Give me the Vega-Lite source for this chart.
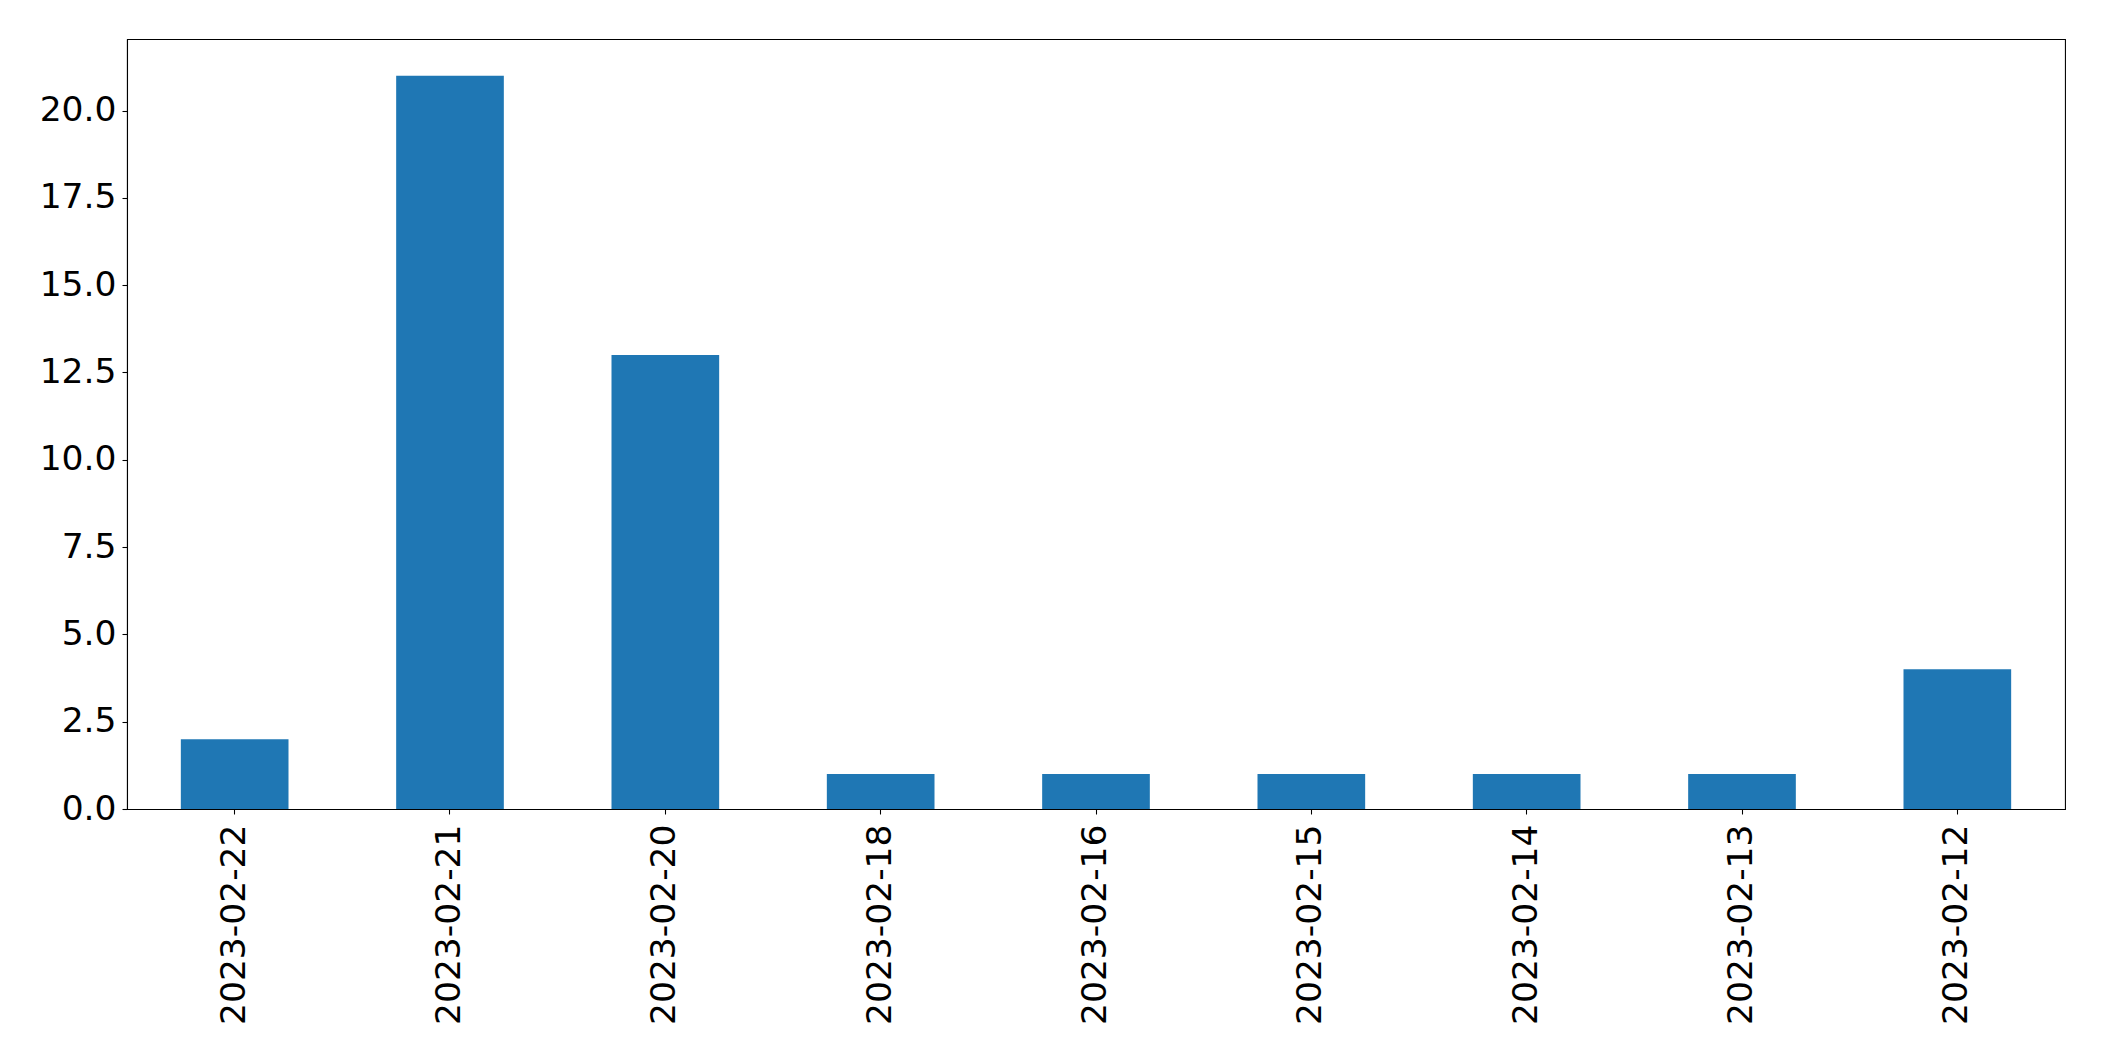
{
  "$schema": "https://vega.github.io/schema/vega-lite/v6.json",
  "width": 1938,
  "height": 770,
  "autosize": {"type": "none"},
  "padding": {"left": 127, "top": 39, "right": 39, "bottom": 252},
  "background": "white",
  "data": {
    "values": [
      {"date": "2023-02-22", "count": 2},
      {"date": "2023-02-21", "count": 21},
      {"date": "2023-02-20", "count": 13},
      {"date": "2023-02-18", "count": 1},
      {"date": "2023-02-16", "count": 1},
      {"date": "2023-02-15", "count": 1},
      {"date": "2023-02-14", "count": 1},
      {"date": "2023-02-13", "count": 1},
      {"date": "2023-02-12", "count": 4}
    ]
  },
  "config": {
    "view": {"stroke": "black", "strokeWidth": 1.07},
    "font": "DejaVu Sans",
    "axis": {
      "grid": false,
      "domainColor": "black",
      "domainWidth": 1.07,
      "tickColor": "black",
      "tickWidth": 1.07,
      "tickSize": 5,
      "labelColor": "black",
      "labelFont": "DejaVu Sans",
      "labelFontSize": 34.5,
      "labelLimit": 0,
      "title": null
    }
  },
  "mark": {"type": "bar", "color": "#1f77b4"},
  "encoding": {
    "x": {
      "field": "date",
      "type": "nominal",
      "sort": null,
      "scale": {"paddingInner": 0.5, "paddingOuter": 0.25},
      "axis": {"labelAngle": -90, "labelPadding": 10, "labelAlign": "right", "labelBaseline": "middle", "labelFontSize": 34.5, "labelLimit": 0}
    },
    "y": {
      "field": "count",
      "type": "quantitative",
      "scale": {"domain": [0, 22.05], "nice": false},
      "axis": {"values": [0, 2.5, 5, 7.5, 10, 12.5, 15, 17.5, 20], "format": ".1f", "labelPadding": 6, "labelFontSize": 34.5}
    }
  }
}
